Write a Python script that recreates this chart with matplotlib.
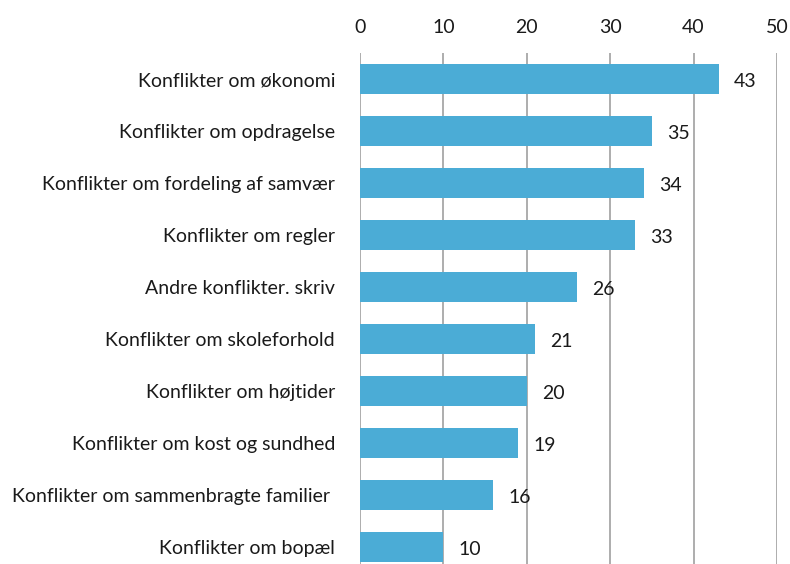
import matplotlib
matplotlib.use('Agg')
import matplotlib.pyplot as plt

# Data
categories = [
    'Konflikter om økonomi',
    'Konflikter om opdragelse',
    'Konflikter om fordeling af samvær',
    'Konflikter om regler',
    'Andre konflikter. skriv',
    'Konflikter om skoleforhold',
    'Konflikter om højtider',
    'Konflikter om kost og sundhed',
    'Konflikter om sammenbragte familier ',
    'Konflikter om bopæl',
]
values = [43, 35, 34, 33, 26, 21, 20, 19, 16, 10]
xticks = [0, 10, 20, 30, 40, 50]

plt.rcParams['font.family'] = ['Lato', 'DejaVu Sans']

fig = plt.figure(figsize=(7.9, 5.64), dpi=100)
ax = fig.add_axes([0.4557, -0.016, 0.5278, 0.922])

pos = list(range(len(categories)))
ax.barh(pos, values, height=0.56, color='#4BACD6', zorder=3)

for y, v in zip(pos, values):
    ax.annotate(str(v), (v, y), xytext=(11, -1.5), textcoords='offset points',
                va='center', ha='left', fontsize=14, color='#1a1a1a')

ax.set_xlim(0, 50)
ax.set_ylim(len(categories) - 0.5, -0.5)
ax.set_xticks(xticks)
ax.set_yticks(pos)
ax.set_yticklabels(categories)
ax.xaxis.tick_top()
ax.tick_params(axis='both', length=0, labelsize=14, colors='#1a1a1a')
ax.tick_params(axis='x', pad=12)
ax.tick_params(axis='y', pad=18)
ax.grid(axis='x', color='#A0A0A0', linewidth=1.2, zorder=0)
for s in ax.spines.values():
    s.set_visible(False)

fig.savefig('out.png', dpi=100)
